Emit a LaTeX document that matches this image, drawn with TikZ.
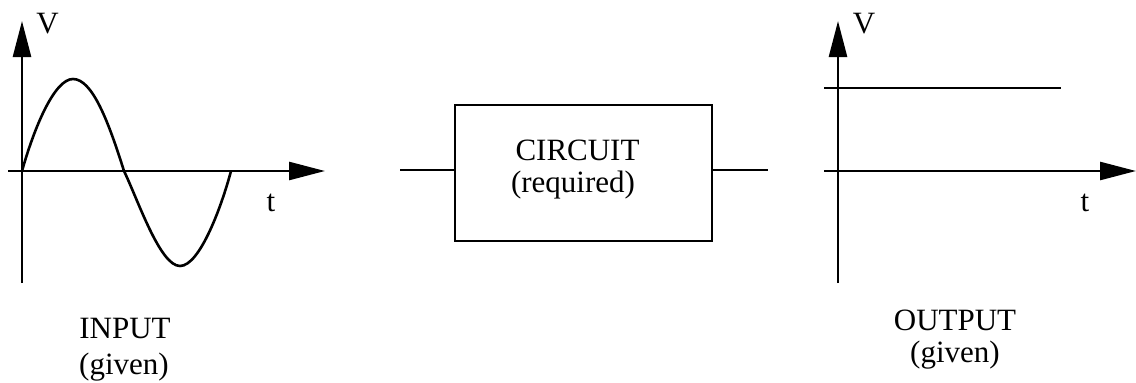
\documentclass[tikz,border=0pt]{standalone}
\usepackage{fontspec}
\setmainfont{Liberation Serif}
\usetikzlibrary{arrows.meta}
\begin{document}
\begin{tikzpicture}[x=1pt,y=-1pt,
  ln/.style={line width=2.6pt},
  axis/.style={line width=2.6pt,-{Triangle[length=36pt,width=18pt]}},
  lbl/.style={font=\fontsize{31}{37}\selectfont,inner sep=0pt,anchor=base},
  blk/.style={draw,line width=2.6pt,minimum width=257pt,minimum height=136pt,inner sep=0pt}]
\useasboundingbox (0,0) rectangle (1136,383);
% left graph
\coordinate (lvb) at (22,283);
\coordinate (lvt) at (22,21);
\coordinate (lhl) at (8,171);
\coordinate (lhr) at (325,171);
\draw[axis] (lvb) -- (lvt);
\draw[axis] (lhl) -- (lhr);
\draw[ln,line join=round] (22,171) .. controls (35,125) and (55,79) .. (73,79)
  .. controls (92,79) and (108,120) .. (124,171)
  .. controls (138,200) and (160,266) .. (180,266)
  .. controls (200,266) and (222,205) .. (231,171);
\node[lbl] (lV) at (47.5,33) {V};
\node[lbl] (lt) at (271,211) {t};
\node[lbl] (lin1) at (125,338) {INPUT};
\node[lbl] (lin2) at (124,374) {(given)};
% circuit
\node[blk] (box) at (583.5,173) {};
\node[lbl] (c1) at (577.5,160) {CIRCUIT};
\node[lbl] (c2) at (573,192) {(required)};
\coordinate (inL) at (400,170);
\coordinate (outR) at (768,170);
\draw[ln] (inL) -- (inL -| box.west);
\draw[ln] (box.east |- outR) -- (outR);
% right graph
\coordinate (rvb) at (838,283);
\coordinate (rvt) at (838,21);
\coordinate (rhl) at (824,171);
\coordinate (rhr) at (1136,171);
\coordinate (dcl) at (824,88);
\coordinate (dcr) at (1061,88);
\draw[axis] (rvb) -- (rvt);
\draw[axis] (rhl) -- (rhr);
\draw[ln] (dcl) -- (dcr);
\node[lbl] (rV) at (864,33) {V};
\node[lbl] (rt) at (1085,211) {t};
\node[lbl] (ro1) at (955,330) {OUTPUT};
\node[lbl] (ro2) at (955,362) {(given)};
\end{tikzpicture}
\end{document}
